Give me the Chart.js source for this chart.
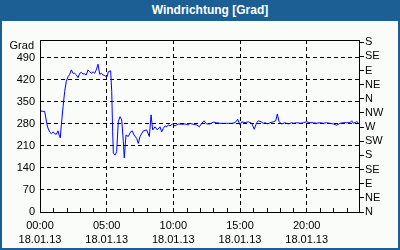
<!DOCTYPE html>
<html>
<head>
<meta charset="utf-8">
<script src="https://cdn.jsdelivr.net/npm/chart.js@4.4.1/dist/chart.umd.min.js"></script>
<style>
  body { margin: 0; background: #fff; }
  #frame { width: 396px; height: 248px; border: 2px solid #1c5f94; border-top: 0; background: #f9fcf9; }
  #title { height: 21px; margin: 0 -2px; padding-left: 20px; background: #1c5f94; color: #fff;
           font: bold 12px "Liberation Sans", Arial, sans-serif; line-height: 20px; text-align: center; }
  #wrap { position: relative; width: 396px; height: 227px; }
</style>
</head>
<body>
<div id="frame">
  <div id="title">Windrichtung [Grad]</div>
  <div id="wrap"><canvas id="chart"></canvas></div>
</div>
<script>
// time in hours since 00:00, wind direction in degrees
const times = [0.05, 0.35, 0.53, 0.6, 0.73, 0.85, 0.98, 1.1, 1.22, 1.35, 1.43, 1.52, 1.6, 1.73, 1.85, 1.97,
  2.1, 2.23, 2.35, 2.48, 2.6, 2.72, 2.85, 2.98, 3.1, 3.23, 3.35, 3.47, 3.6, 3.73, 3.85, 3.98,
  4.1, 4.22, 4.35, 4.48, 4.6, 4.73, 4.85, 5.03, 5.12, 5.3, 5.38, 5.45, 5.5, 5.63, 5.75, 5.87,
  6.0, 6.13, 6.25, 6.32, 6.45, 6.62, 6.8, 6.92, 7.05, 7.25, 7.37, 7.5, 7.75, 8.0, 8.2, 8.33,
  8.45, 8.63, 8.8, 9.0, 9.13, 9.25, 9.38, 9.5, 9.62, 9.75, 9.95, 10.13, 10.37, 10.63, 10.88, 11.12,
  11.25, 11.5, 11.75, 11.95, 12.13, 12.3, 12.5, 12.75, 13.0, 13.25, 13.5, 13.75, 14.0, 14.12, 14.38, 14.63,
  14.83, 15.0, 15.13, 15.38, 15.62, 15.88, 16.07, 16.25, 16.37, 16.58, 16.75, 16.88, 17.08, 17.25, 17.5, 17.68,
  17.8, 17.93, 18.13, 18.38, 18.62, 18.88, 19.0, 19.25, 19.5, 19.75, 20.0, 20.25, 20.5, 20.75, 21.0, 21.25,
  21.5, 21.75, 22.0, 22.25, 22.5, 22.75, 23.0, 23.25, 23.38, 23.5, 23.75, 23.87];
const deg = [321, 320, 277, 267, 254, 249, 255, 249, 247, 258, 245, 236, 277, 335, 383, 415,
  430, 438, 452, 441, 441, 436, 427, 441, 444, 439, 439, 436, 452, 446, 441, 446,
  441, 452, 470, 438, 441, 436, 434, 430, 446, 449, 383, 255, 187, 181, 192, 287,
  303, 293, 224, 172, 245, 240, 255, 258, 245, 234, 218, 240, 258, 261, 240, 309,
  261, 271, 261, 271, 255, 266, 274, 271, 277, 274, 280, 274, 280, 279, 280, 277,
  282, 279, 277, 271, 282, 290, 280, 280, 286, 284, 282, 282, 282, 282, 282, 284,
  295, 277, 287, 284, 287, 282, 263, 284, 290, 287, 282, 284, 280, 284, 287, 290,
  312, 287, 280, 284, 280, 284, 282, 284, 282, 284, 287, 284, 284, 282, 284, 282,
  284, 282, 280, 276, 282, 284, 284, 284, 290, 282, 287, 284];

const dateLabel = '18.01.13';
const hourTicks = [0, 5, 10, 15, 20];
const minorHours = [1, 2, 3, 4, 6, 7, 8, 9, 11, 12, 13, 14, 16, 17, 18, 19, 21, 22, 23];
const gradTicks = [0, 70, 140, 210, 280, 350, 420, 490];
const compassTicks = [0, 45, 90, 135, 180, 225, 270, 315, 360, 405, 450, 495, 540];
const compassNames = ['N', 'NE', 'E', 'SE', 'S', 'SW', 'W', 'NW', 'N', 'NE', 'E', 'SE', 'S'];

Chart.defaults.font.family = '"Liberation Sans", Arial, sans-serif';
Chart.defaults.font.size = 11;
Chart.defaults.color = '#000';

// frame, hourly minor ticks and the "Grad" unit label
const extras = {
  id: 'extras',
  afterDraw(chart) {
    const { ctx, chartArea: a, scales } = chart;
    ctx.save();
    ctx.strokeStyle = '#000';
    ctx.lineWidth = 1;
    ctx.strokeRect(a.left + 0.5, a.top + 0.5, a.right - a.left - 1, a.bottom - a.top);
    ctx.beginPath();
    minorHours.forEach(h => {
      const px = Math.round(scales.x.getPixelForValue(h)) + 0.5;
      ctx.moveTo(px, a.bottom);
      ctx.lineTo(px, a.bottom - 4);
    });
    ctx.stroke();
    ctx.fillStyle = '#000';
    ctx.font = '11px "Liberation Sans", Arial, sans-serif';
    ctx.textAlign = 'right';
    ctx.textBaseline = 'middle';
    ctx.fillText('Grad', a.left - 6, scales.y.getPixelForValue(490) - 12);
    ctx.restore();
  }
};

new Chart(document.getElementById('chart'), {
  type: 'line',
  data: {
    datasets: [{
      data: times.map((t, i) => ({ x: t, y: deg[i] })),
      borderColor: '#0000ff',
      borderWidth: 1,
      pointRadius: 0,
      tension: 0,
      yAxisID: 'y'
    }]
  },
  options: {
    animation: false,
    responsive: true,
    maintainAspectRatio: false,
    layout: { padding: { top: 19, left: 0, right: 0, bottom: 0 } },
    plugins: { legend: { display: false }, tooltip: { enabled: false } },
    scales: {
      x: {
        type: 'linear',
        min: 0,
        max: 24,
        afterBuildTicks: s => { s.ticks = hourTicks.map(v => ({ value: v })); },
        afterFit: s => { s.height = 36; },
        ticks: {
          padding: 7,
          maxRotation: 0,
          autoSkip: false,
          font: { lineHeight: 1.3 },
          callback: v => [String(v).padStart(2, '0') + ':00', dateLabel]
        },
        grid: { color: '#000', drawTicks: false },
        border: { display: false, dash: [4, 3] }
      },
      y: {
        position: 'left',
        min: 0,
        max: 547,
        afterBuildTicks: s => { s.ticks = gradTicks.map(v => ({ value: v })); },
        afterFit: s => { s.width = 38; },
        ticks: { padding: 5, autoSkip: false },
        grid: { color: '#000', drawTicks: false },
        border: { display: false, dash: [4, 3] }
      },
      y2: {
        position: 'right',
        display: true,
        min: 0,
        max: 547,
        afterBuildTicks: s => { s.ticks = compassTicks.map(v => ({ value: v })); },
        afterFit: s => { s.width = 38; },
        ticks: { padding: 1, autoSkip: false, callback: (v, i) => compassNames[i] },
        grid: { drawOnChartArea: false, drawTicks: true, tickLength: 4, color: '#000' },
        border: { display: false }
      }
    }
  },
  plugins: [extras]
});
</script>
</body>
</html>
